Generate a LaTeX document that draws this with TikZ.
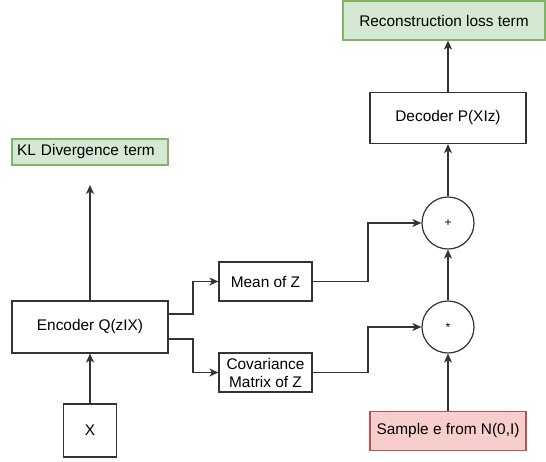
\documentclass[tikz,border=0pt]{standalone}
\usepackage{fontspec}
\setmainfont{Liberation Sans}
\usetikzlibrary{arrows.meta}
\definecolor{okfill}{HTML}{D5E8D4}
\definecolor{okline}{HTML}{82B366}
\definecolor{badfill}{HTML}{F8CECC}
\definecolor{badline}{HTML}{B85450}
\begin{document}
\begin{tikzpicture}[x=1pt,y=-1pt,
  lbl/.style={font=\fontsize{15.4}{18}\selectfont},
  box/.style={lbl, draw=black!80, line width=1.2pt, fill=white, inner sep=0pt, align=center},
  termbox/.style={box, draw=okline, fill=okfill},
  samplebox/.style={box, draw=badline, fill=badfill},
  opnode/.style={circle, draw=black!80, line width=1.2pt, fill=white, minimum size=52pt, inner sep=0pt, font=\fontsize{12}{14}\selectfont},
  link/.style={draw=black!80, line width=1.2pt, -{Stealth[length=9pt,width=8pt,inset=2.5pt]}},
  plain/.style={draw=black!80, line width=1.2pt}
]
\useasboundingbox (0,0) rectangle (546,461);

% loss terms
\node[termbox, minimum height=26pt, text width=146pt, inner xsep=5pt, align=left] (kl) at (90,152) {KL Divergence term};
\node[termbox, minimum width=202pt, minimum height=39pt] (rec) at (444,20.5) {Reconstruction loss term};

% encoder side
\node[box, minimum width=156pt, minimum height=52pt] (enc) at (90,327) {Encoder Q(zIX)};
\node[box, minimum width=53pt, minimum height=53pt] (x) at (90,430.5) {X};
\node[box, minimum width=93pt, minimum height=39pt] (mean) at (265.5,281.5) {Mean of Z};
\node[box, minimum width=93pt, minimum height=39pt] (cov) at (265.5,372.5) {Covariance\\Matrix of Z};

% reparameterisation and decoder
\node[opnode] (plus) at (448,223) {+};
\node[opnode] (mul) at (448,327) {*};
\node[samplebox, minimum width=156pt, minimum height=39pt] (smp) at (448,431) {Sample e from N(0,I)};
\node[box, minimum width=156pt, minimum height=51pt] (dec) at (448,118) {Decoder P(XIz)};

\coordinate (klend) at (90,185);

% connectors
\draw[link] (x.north) -- (enc.south);
\draw[link] (enc.north) -- (klend);
\draw[link] (enc.east |- 0,314) -| (193,281.5) -- (mean.west);
\draw[link] (enc.east |- 0,339) -| (193,372.5) -- (cov.west);
\draw[link] (mean.east) -| (368,223) -- (plus.west);
\draw[link] (cov.east) -| (368,327) -- (mul.west);
\draw[link] (smp.north) -- (mul.south);
\draw[link] (mul.north) -- (plus.south);
\draw[link] (plus.north) -- (dec.south);
\draw[link] (dec.north) -- (rec.south -| dec.north);
\end{tikzpicture}
\end{document}
